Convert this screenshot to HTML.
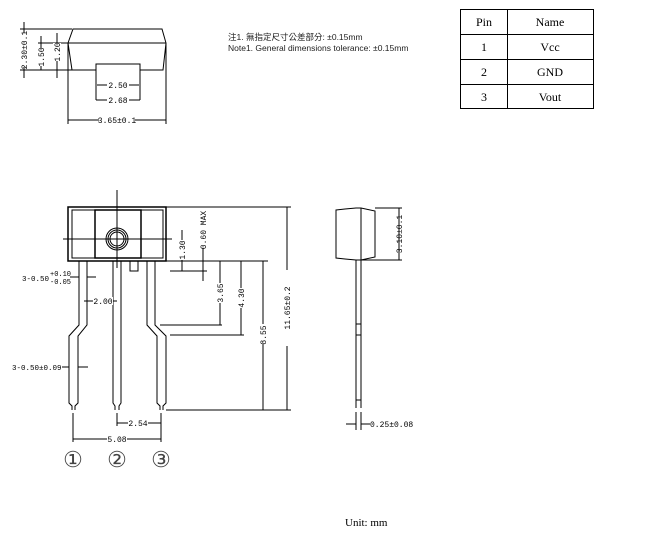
<!DOCTYPE html>
<html><head><meta charset="utf-8"><style>
html,body{margin:0;padding:0;background:#fff;width:648px;height:542px;overflow:hidden}
svg{display:block}
.t{font-family:"Liberation Mono",monospace;font-size:8px;fill:#000}
.n{font-family:"Liberation Sans","Noto Sans CJK TC",sans-serif;font-size:8.5px;fill:#222}
.s{font-family:"Liberation Serif",serif;font-size:12px;fill:#000}
.w{fill:#fff;stroke:none}
</style></head><body>
<svg width="648" height="542" viewBox="0 0 648 542" xmlns="http://www.w3.org/2000/svg" fill="none" stroke="#000" stroke-width="1">
<!-- top view -->
<path d="M73 29 H162 L166 43 L163 70 H140 V64 H96 V70 H72 L68 43 Z"/>
<line x1="68" y1="43" x2="166" y2="43"/>
<line x1="96" y1="64" x2="96" y2="100"/><line x1="140" y1="64" x2="140" y2="100"/>
<line x1="68" y1="43" x2="68" y2="124"/><line x1="166" y1="43" x2="166" y2="124"/>
<line x1="97" y1="85" x2="139" y2="85"/><line x1="96" y1="100" x2="140" y2="100"/>
<line x1="68" y1="120" x2="166" y2="120"/>
<line x1="20" y1="29" x2="72" y2="29"/><line x1="20" y1="70" x2="72" y2="70"/>
<line x1="24" y1="22" x2="24" y2="78"/><line x1="38" y1="43" x2="68" y2="43"/>
<line x1="41" y1="36" x2="41" y2="70"/><line x1="57" y1="33" x2="57" y2="78"/>
<rect class="w" x="107" y="81" width="22" height="8"/><rect class="w" x="107" y="96" width="22" height="8"/><rect class="w" x="99" y="116" width="36" height="8"/>
<rect class="w" x="20" y="33" width="8" height="34"/><rect class="w" x="37" y="48" width="8" height="18"/><rect class="w" x="53" y="43" width="8" height="18"/>
<g stroke="none">
<text class="t" x="118" y="88" text-anchor="middle">2.50</text>
<text class="t" x="118" y="103" text-anchor="middle">2.68</text>
<text class="t" x="117" y="123" text-anchor="middle">3.65±0.1</text>
<text class="t" transform="translate(27,50) rotate(-90)" text-anchor="middle">2.30±0.1</text>
<text class="t" transform="translate(44,57) rotate(-90)" text-anchor="middle">1.50</text>
<text class="t" transform="translate(60,52) rotate(-90)" text-anchor="middle">1.20</text>
<text class="n" x="228" y="40">注1. 無指定尺寸公差部分: ±0.15mm</text>
<text class="n" x="228" y="51">Note1. General dimensions tolerance: ±0.15mm</text>
</g>
<!-- table -->
<rect x="460.5" y="9.5" width="133" height="99"/>
<line x1="460" y1="34.5" x2="594" y2="34.5"/><line x1="460" y1="59.5" x2="594" y2="59.5"/><line x1="460" y1="84.5" x2="594" y2="84.5"/>
<line x1="507.5" y1="9" x2="507.5" y2="109"/>
<g stroke="none">
<text class="s" x="484" y="26" text-anchor="middle">Pin</text><text class="s" x="550" y="26" text-anchor="middle">Name</text>
<text class="s" x="484" y="51" text-anchor="middle">1</text><text class="s" x="550" y="51" text-anchor="middle">Vcc</text>
<text class="s" x="484" y="76" text-anchor="middle">2</text><text class="s" x="550" y="76" text-anchor="middle">GND</text>
<text class="s" x="484" y="101" text-anchor="middle">3</text><text class="s" x="550" y="101" text-anchor="middle">Vout</text>
</g>
<!-- front view body -->
<rect x="68" y="207" width="98" height="54" stroke-width="1.5"/>
<rect x="72" y="210" width="23" height="48"/><rect x="141" y="210" width="22" height="48"/>
<rect x="95" y="210" width="46" height="48" stroke-width="1.5"/>
<circle cx="117" cy="239" r="11"/><circle cx="117" cy="239" r="9"/><circle cx="117" cy="239" r="7"/>
<line x1="117" y1="190" x2="117" y2="268"/><line x1="63" y1="239" x2="172" y2="239"/>
<rect x="130" y="261" width="8" height="10"/>
<!-- leads -->
<path d="M79 261 V325 L69 336 V403 L72 406 V410 M87 261 V325 L78 336 V403 L75 406 V410"/>
<path d="M113 261 V403 L115 406 V410 M121 261 V403 L119 406 V410"/>
<path d="M147 261 V325 L157 336 V403 L160 406 V410 M155 261 V325 L166 336 V403 L163 406 V410"/>
<!-- dims right -->
<line x1="166" y1="207" x2="291" y2="207"/><line x1="166" y1="261" x2="268" y2="261"/>
<line x1="160" y1="325" x2="222" y2="325"/><line x1="170" y1="335" x2="244" y2="335"/>
<line x1="166" y1="410" x2="291" y2="410"/>
<line x1="287" y1="207" x2="287" y2="410"/><line x1="263" y1="261" x2="263" y2="410"/>
<line x1="241" y1="261" x2="241" y2="335"/><line x1="220" y1="261" x2="220" y2="325"/>
<line x1="182" y1="230" x2="182" y2="271"/><line x1="203" y1="230" x2="203" y2="281"/><line x1="170" y1="271" x2="207" y2="271"/>
<line x1="70" y1="277" x2="79" y2="277"/><line x1="87" y1="277" x2="96" y2="277"/>
<line x1="84" y1="301" x2="117" y2="301"/>
<line x1="62" y1="367" x2="69" y2="367"/><line x1="78" y1="367" x2="88" y2="367"/>
<line x1="73" y1="413" x2="73" y2="442"/><line x1="117" y1="413" x2="117" y2="426"/><line x1="161" y1="413" x2="161" y2="442"/>
<line x1="117" y1="423" x2="161" y2="423"/><line x1="73" y1="439" x2="161" y2="439"/>
<rect class="w" x="128" y="419" width="20" height="8"/><rect class="w" x="107" y="435" width="20" height="8"/><rect class="w" x="93" y="297" width="20" height="8"/>
<rect class="w" x="283" y="270" width="8" height="76"/><rect class="w" x="259" y="324" width="8" height="20"/><rect class="w" x="237" y="288" width="8" height="20"/><rect class="w" x="216" y="283" width="8" height="20"/><rect class="w" x="178" y="240" width="8" height="20"/><rect class="w" x="199" y="212" width="8" height="36"/>
<rect class="w" x="395" y="213" width="8" height="42"/>
<g stroke="none">
<text class="t" x="138" y="426" text-anchor="middle">2.54</text>
<text class="t" x="117" y="442" text-anchor="middle">5.08</text>
<text class="t" x="103" y="304" text-anchor="middle">2.00</text>
<text class="t" x="22" y="281" style="font-size:7.5px">3-0.50</text><text class="t" x="50" y="276" style="font-size:7px">+0.10</text><text class="t" x="50" y="284" style="font-size:7px">-0.05</text>
<text class="t" x="12" y="370" style="font-size:7.5px">3-0.50±0.09</text>
<text class="t" transform="translate(290,308) rotate(-90)" text-anchor="middle">11.65±0.2</text>
<text class="t" transform="translate(266,335) rotate(-90)" text-anchor="middle">8.55</text>
<text class="t" transform="translate(244,298) rotate(-90)" text-anchor="middle">4.30</text>
<text class="t" transform="translate(223,293) rotate(-90)" text-anchor="middle">3.65</text>
<text class="t" transform="translate(185,250) rotate(-90)" text-anchor="middle">1.30</text>
<text class="t" transform="translate(206,230) rotate(-90)" text-anchor="middle">0.60 MAX</text>
<text class="s" x="73" y="467" text-anchor="middle" style="font-size:22px;fill:#444">①</text>
<text class="s" x="117" y="467" text-anchor="middle" style="font-size:22px;fill:#444">②</text>
<text class="s" x="161" y="467" text-anchor="middle" style="font-size:22px;fill:#444">③</text>
<text class="s" x="345" y="526" style="font-size:11px">Unit: mm</text>
</g>
<!-- side view -->
<path d="M336 210 L345 209 L356 208 H361 L375 211 V257 L361 260 H356 L345 259 L336 258 Z"/>
<line x1="361" y1="208" x2="361" y2="260"/>
<line x1="375" y1="208" x2="402" y2="208"/><line x1="361" y1="260" x2="402" y2="260"/>
<line x1="399" y1="208" x2="399" y2="260"/>
<path d="M356 260 V408 M361 260 V408 M356 324 H361 M356 335 H361 M356 400 H361"/>
<line x1="356" y1="412" x2="356" y2="430"/><line x1="361" y1="412" x2="361" y2="430"/>
<line x1="346" y1="424" x2="356" y2="424"/><line x1="361" y1="424" x2="370" y2="424"/>
<g stroke="none">
<text class="t" transform="translate(402,234) rotate(-90)" text-anchor="middle">3.10±0.1</text>
<text class="t" x="370" y="427">0.25±0.08</text>
</g>
</svg>
</body></html>
